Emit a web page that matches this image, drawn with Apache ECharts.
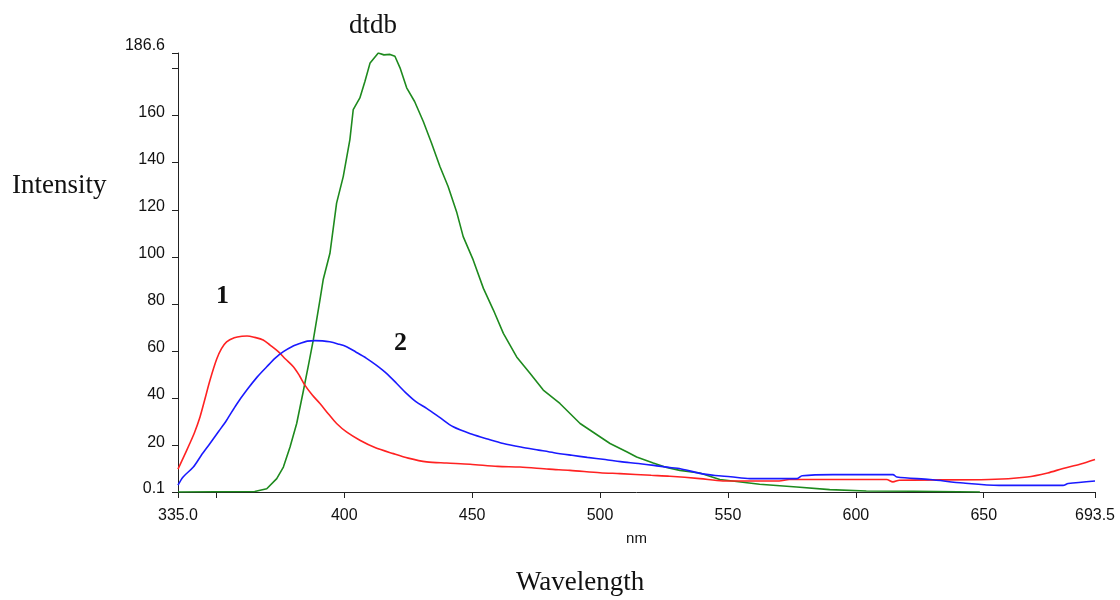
<!DOCTYPE html>
<html><head><meta charset="utf-8">
<script src="https://cdn.jsdelivr.net/npm/echarts@6/dist/echarts.min.js"></script>
<style>html,body{margin:0;padding:0;background:#fff}#c{width:1120px;height:600px}</style>
</head><body><div id="c"></div>
<script>
// Curve 1 (red)
const redWavelength = [335, 337, 339.6, 341.5, 343.6, 345.5, 347.5, 350.1, 352, 354, 357, 360, 362, 365, 368.3, 371, 374.2, 377, 380.1, 382.5, 384.6, 387.5, 390.5, 394, 397, 401, 406.1, 412, 419.2, 425, 432.2, 440, 449.2, 460, 468.7, 480, 488.2, 500, 507.8, 520, 527.3, 539, 548, 570, 574, 612, 614.5, 617, 652, 667, 675, 681, 687.6, 693.5];
const redIntensity  = [9.8, 14.5, 20.7, 25.5, 32.0, 39.5, 47.6, 56.5, 61.0, 63.9, 65.6, 66.3, 66.4, 65.8, 64.7, 62.5, 59.7, 56.6, 53.3, 49.5, 45.5, 41.3, 37.7, 33, 29.2, 25.5, 22.1, 19, 16.4, 14.5, 12.9, 12.4, 11.9, 11.0, 10.7, 9.8, 9.3, 8.3, 7.9, 7.2, 6.8, 5.8, 4.8, 4.8, 5.4, 5.4, 4.4, 5.1, 5.4, 6.5, 8.2, 10.1, 11.9, 13.9];
// Curve 2 (blue)
const blueWavelength = [335, 337, 341, 344, 347.5, 351, 354, 358, 361.9, 366, 369.7, 373, 376.2, 379.5, 382.7, 385.5, 388.5, 391.5, 394.3, 397.5, 400.9, 404.5, 408.7, 412.5, 416.5, 420.5, 424.3, 428, 432.2, 437.3, 442.6, 450, 456, 462.2, 469, 476, 482, 489, 495, 502, 508, 515, 521, 528, 531, 539, 545, 551, 558.6, 577, 579, 591, 614.5, 616, 629, 642, 656, 681, 683, 693.5];
const blueIntensity  = [3.0, 6.5, 10.7, 15.5, 20.7, 26, 30.6, 37.5, 43.4, 49, 53.3, 57, 59.7, 61.8, 63.2, 64.2, 64.4, 64.3, 63.9, 63, 61.8, 59.6, 56.9, 54, 50.5, 46.2, 42.0, 38.5, 35.6, 31.8, 27.8, 24.6, 22.6, 20.7, 19.2, 17.9, 16.8, 15.7, 14.8, 13.9, 13.0, 12.2, 11.4, 10.4, 10.1, 8.0, 7.1, 6.6, 5.8, 5.8, 7.0, 7.5, 7.5, 6.5, 5.4, 3.9, 2.9, 2.9, 3.7, 4.8];
// dtdb (green)
const greenWavelength = [335, 350, 365, 369.7, 373.6, 376.2, 378.8, 381.4, 384, 386, 387.9, 390.5, 391.8, 394.4, 397.0, 399.6, 402.2, 403.5, 406.1, 408.1, 410.1, 413.3, 415.5, 417.9, 419.8, 421.8, 424.4, 427.5, 430.9, 434.1, 437.4, 440.6, 443.9, 446.5, 450.4, 454.4, 458.3, 462.2, 467.4, 472.6, 477.8, 484.3, 492.2, 503.9, 510.4, 514.3, 520.8, 526, 531.2, 539, 546.8, 562.4, 576.9, 589.8, 604.1, 622.5, 648.5];
const greenIntensity  = [0.1, 0.2, 0.3, 1.5, 5.8, 10.7, 19.2, 29.2, 43, 54, 64.7, 81.7, 90.5, 101.5, 122.8, 134.1, 149.8, 162.5, 167.5, 174.6, 182.4, 186.6, 185.8, 186, 185.2, 180.3, 171.8, 166, 157.5, 148.4, 138.4, 129.9, 119.2, 108.6, 98.7, 86.6, 77.4, 67.5, 57.5, 50.5, 43.4, 37.7, 29.2, 20.7, 17.2, 15, 12.4, 10.5, 9.3, 8.2, 5.4, 3.4, 2.2, 1.1, 0.5, 0.4, 0.1];

const xTickValues  = [335, 350, 400, 450, 500, 550, 600, 650, 693.5];
const xLabelValues = [335, 400, 450, 500, 550, 600, 650, 693.5];
const yTickValues  = [0.1, 20, 40, 60, 80, 100, 120, 140, 160, 180, 186.6];
const yLabelValues = [0.1, 20, 40, 60, 80, 100, 120, 140, 160, 186.6];

function zip(a, b) { return a.map((v, i) => [v, b[i]]); }

const chart = echarts.init(document.getElementById('c'), null, {renderer: 'canvas'});
const axisColor = '#222';
const sans = 'Liberation Sans, Arial, sans-serif';
const labelFont = {fontFamily: sans, fontSize: 16, color: '#111'};
const serif = 'Liberation Serif, Times New Roman, serif';

chart.setOption({
  animation: false,
  backgroundColor: '#fff',
  grid: {left: 178, right: 25, top: 53, bottom: 108, containLabel: false},
  xAxis: {
    type: 'value', min: 335, max: 693.5,
    name: 'nm', nameLocation: 'middle', nameGap: 39,
    nameTextStyle: {fontFamily: sans, fontSize: 15, color: '#111'},
    axisLine: {onZero: false, lineStyle: {color: axisColor, width: 1}},
    axisTick: {customValues: xTickValues, length: 6, lineStyle: {color: axisColor}},
    axisLabel: Object.assign({customValues: xLabelValues, margin: 16,
      formatter: v => (v === 335 ? '335.0' : String(v))}, labelFont),
    splitLine: {show: false}
  },
  yAxis: {
    type: 'value', min: 0.1, max: 186.6,
    axisLine: {show: true, lineStyle: {color: axisColor, width: 1}},
    axisTick: {show: true, customValues: yTickValues, length: 6, lineStyle: {color: axisColor}},
    axisLabel: Object.assign({customValues: yLabelValues, margin: 13, padding: [0, 0, 6, 0],
      formatter: v => (v === 186.6 ? '{top|186.6}' : String(v)),
      rich: {top: {fontFamily: sans, fontSize: 16, color: '#111', padding: [0, 0, 8, 0]}}}, labelFont),
    splitLine: {show: false}
  },
  series: [
    {name: 'dtdb', type: 'line', data: zip(greenWavelength, greenIntensity), showSymbol: false,
     lineStyle: {color: '#1e8a1e', width: 1.6}, itemStyle: {color: '#1e8a1e'}},
    {name: '1', type: 'line', data: zip(redWavelength, redIntensity), showSymbol: false, smooth: 0.3,
     lineStyle: {color: '#ff2222', width: 1.6}, itemStyle: {color: '#ff2222'}},
    {name: '2', type: 'line', data: zip(blueWavelength, blueIntensity), showSymbol: false, smooth: 0.3,
     lineStyle: {color: '#1a1aff', width: 1.6}, itemStyle: {color: '#1a1aff'}}
  ],
  graphic: [
    {type: 'text', left: 12, top: 172, style: {text: 'Intensity', font: '27px ' + serif, fill: '#111'}},
    {type: 'text', left: 516, top: 569, style: {text: 'Wavelength', font: '27px ' + serif, fill: '#111'}},
    {type: 'text', left: 349, top: 12, style: {text: 'dtdb', font: '27px ' + serif, fill: '#111'}},
    {type: 'text', left: 216, top: 283, style: {text: '1', font: 'bold 26px ' + serif, fill: '#111'}},
    {type: 'text', left: 394, top: 330, style: {text: '2', font: 'bold 26px ' + serif, fill: '#111'}}
  ]
});
</script>
</body></html>
